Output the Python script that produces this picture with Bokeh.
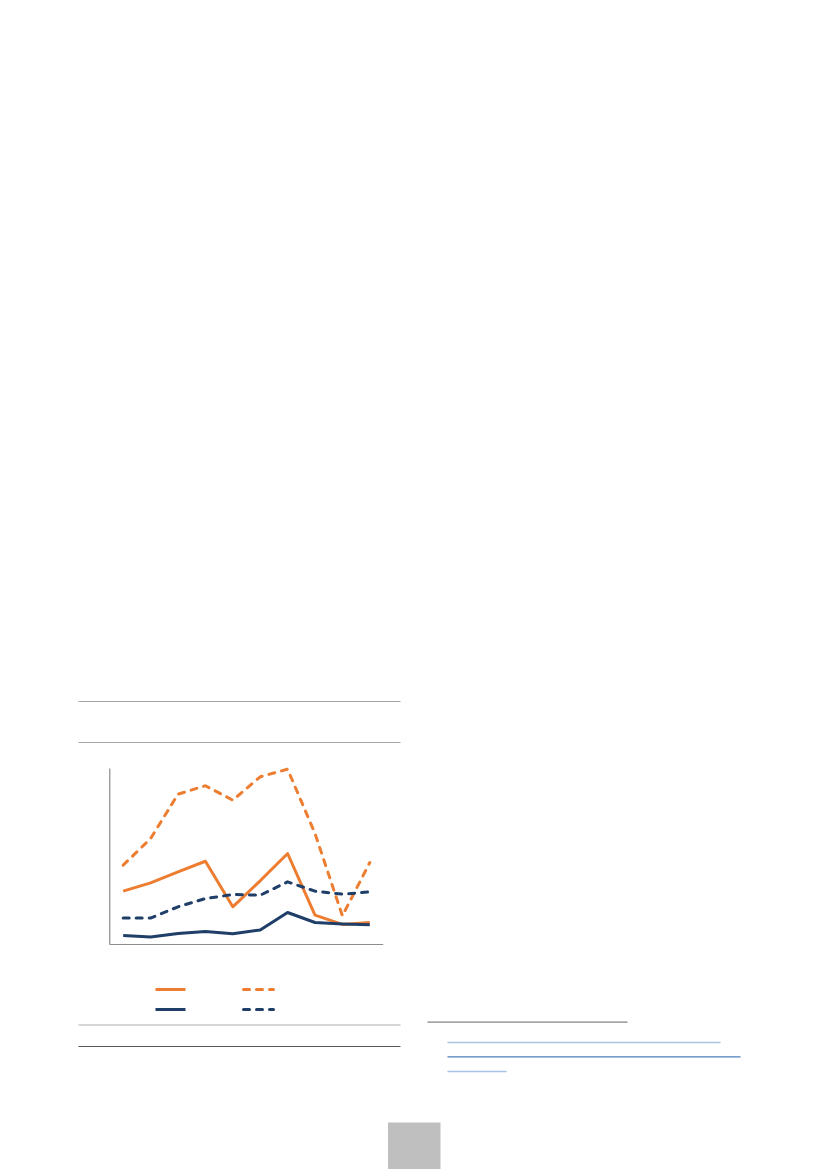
from bokeh.plotting import figure
from bokeh.models import Range1d
from bokeh.embed import file_html
from bokeh.resources import INLINE

# ---- data ----
periods = list(range(10))
orange_solid = [30.3, 35.0, 41.3, 47.3, 21.4, 36.2, 51.7, 16.7, 11.4, 12.5]
orange_dashed = [45.1, 60.2, 85.4, 90.2, 82.0, 95.3, 99.6, 63.1, 16.3, 46.6]
navy_solid = [5.1, 4.2, 6.3, 7.4, 6.1, 8.3, 18.2, 12.5, 11.7, 11.2]
navy_dashed = [15.0, 15.0, 21.4, 26.1, 28.4, 28.0, 35.6, 30.3, 28.6, 29.9]
y_max = 100.0

ORANGE = "#ED7D31"
NAVY = "#1F3F68"

# ---- page geometry ----
W, H = 811, 1169
PX0, PY0 = 0, 0
# chart frame in page pixels
cx0, cx_step = 122.7, 27.4    # x position of first period, px per period
cy0, cy_scale = 944.0, 1.76   # y of zero line, px per unit

x_start = (PX0 - cx0) / cx_step
x_end = (PX0 + W - cx0) / cx_step
y_top = (cy0 - PY0) / cy_scale
y_bot = (cy0 - (PY0 + H)) / cy_scale

p = figure(width=W, height=H, output_backend="svg", toolbar_location=None,
           x_range=Range1d(x_start, x_end), y_range=Range1d(y_bot, y_top),
           x_axis_location=None, y_axis_location=None, min_border=0)
p.xgrid.visible = False
p.ygrid.visible = False
p.outline_line_color = None
p.background_fill_color = "white"
p.border_fill_color = "white"
p.extra_x_ranges = {"px": Range1d(PX0, PX0 + W)}
p.extra_y_ranges = {"py": Range1d(PY0 + H, PY0)}

def seg(x0, y0, x1, y1, color, width=1.0):
    p.segment(x0=[x0], y0=[y0], x1=[x1], y1=[y1], line_color=color,
              line_width=width, x_range_name="px", y_range_name="py")

# ---- page decorations ----
seg(78, 701, 400, 701, "#A6A6A6", 1.2)
seg(78, 742, 400, 742, "#A6A6A6", 1.2)
seg(78, 1024.5, 400, 1024.5, "#C8C8C8", 1.5)
seg(78, 1046, 400, 1046, "#595959", 1.2)
seg(427, 1021.7, 627, 1021.7, "#A6A6A6", 1.8)
seg(447, 1042, 720, 1042, "#A9C4E4", 1.3)
seg(447, 1056.3, 740, 1056.3, "#4A7EBB", 1.2)
seg(447, 1071, 506, 1071, "#A9C4E4", 1.3)
p.quad(left=[387.5], right=[440], top=[1122], bottom=[1180], fill_color="#BFBFBF",
       line_color=None, x_range_name="px", y_range_name="py")

# ---- chart axes ----
p.segment(x0=[-0.49], y0=[0], x1=[-0.49], y1=[y_max], line_color="#8C8C8C", line_width=1.2)
p.segment(x0=[-0.49], y0=[0], x1=[len(periods) - 0.51], y1=[0], line_color="#8C8C8C", line_width=1.2)

# ---- series ----
dash = "6 7"
common = dict(line_width=3, line_join="round")
p.line(periods, orange_dashed, line_color=ORANGE, line_dash=dash, line_cap="round", **common)
p.line(periods, orange_solid, line_color=ORANGE, **common)
p.line(periods, navy_dashed, line_color=NAVY, line_dash=dash, line_cap="round", **common)
p.line(periods, navy_solid, line_color=NAVY, **common)

# ---- legend swatches ----
def swatch(x0, y, color, dashed):
    kw = dict(line_color=color, line_width=3, x_range_name="px", y_range_name="py")
    if dashed:
        kw.update(line_dash=dash, line_cap="round")
    p.line([x0, x0 + 30], [y, y], **kw)

swatch(155, 989, ORANGE, False)
swatch(243, 989, ORANGE, True)
swatch(155, 1009, NAVY, False)
swatch(243, 1009, NAVY, True)

open("out.html", "w").write(file_html(p, INLINE))
